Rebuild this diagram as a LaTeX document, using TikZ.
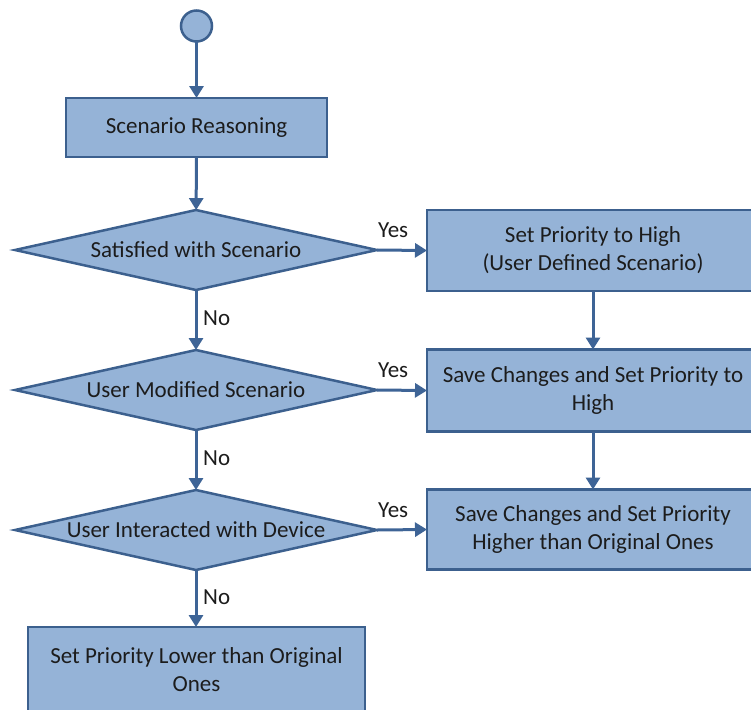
\documentclass[tikz,border=0pt]{standalone}
\usepackage{fontspec}
\setmainfont{Carlito}
\usetikzlibrary{shapes.geometric,arrows.meta}
\definecolor{boxfill}{RGB}{149,179,215}
\definecolor{boxline}{RGB}{60,96,142}
\definecolor{flowline}{RGB}{62,100,150}
\definecolor{txt}{RGB}{28,28,28}
\begin{document}
\begin{tikzpicture}[x=1pt,y=-1pt,
  every node/.style={font=\fontsize{23}{28}\selectfont, text=txt},
  stepbox/.style={rectangle, draw=boxline, fill=boxfill, line width=2.5pt,
    inner sep=0pt, outer sep=0pt, align=center},
  decision/.style={diamond, draw=boxline, fill=boxfill, line width=2.5pt,
    inner sep=0pt, outer sep=0pt, aspect=4.5,
    minimum width=362pt, minimum height=80pt},
  startnode/.style={circle, draw=boxline, fill=boxfill, line width=2.5pt,
    minimum size=31pt, inner sep=0pt, outer sep=0pt},
  flow/.style={draw=flowline, line width=3pt, -{Triangle[width=14pt,length=12pt]}},
  lbl/.style={inner sep=0pt, anchor=west}]
\clip (0,0) rectangle (751,709);

% start and first step
\node[startnode] (start) at (196.5,26) {};
\node[stepbox, minimum width=261pt, minimum height=59pt] (reason) at (196.5,127.5) {Scenario Reasoning};

% decisions
\node[decision] (d1) at (196,250) {Satisfied with Scenario};
\node[decision] (d2) at (196,390) {User Modified Scenario};
\node[decision] (d3) at (196,530) {User Interacted with Device};

% outcomes
\node[stepbox, minimum width=332pt, minimum height=81pt] (high) at (593,250.5)
  {Set Priority to High\\(User Defined Scenario)};
\node[stepbox, minimum width=332pt, minimum height=82pt] (save) at (593,390.5)
  {Save Changes and Set Priority to\\High};
\node[stepbox, minimum width=332pt, minimum height=80pt] (higher) at (593,529.5)
  {Save Changes and Set Priority\\Higher than Original Ones};
\node[stepbox, minimum width=337pt, minimum height=85pt] (lower) at (196.5,669.5)
  {Set Priority Lower than Original\\Ones};

% connectors
\draw[flow] (start) -- (reason);
\draw[flow] (reason) -- (d1);
\draw[flow] (d1) -- (d2);
\draw[flow] (d2) -- (d3);
\draw[flow] (d3) -- (d3 |- lower.north);
\draw[flow] (d1.east) -- (high.west);
\draw[flow] (d2.east) -- (save.west);
\draw[flow] (d3.east) -- (higher.west);
\draw[flow] (high) -- (save);
\draw[flow] (save) -- (higher);

% branch labels
\node[lbl] (y1) at (378,230) {Yes};
\node[lbl] (y2) at (378,370) {Yes};
\node[lbl] (y3) at (378,510) {Yes};
\node[lbl] (n1) at (203,318) {No};
\node[lbl] (n2) at (203,458) {No};
\node[lbl] (n3) at (203,597) {No};
\end{tikzpicture}
\end{document}
